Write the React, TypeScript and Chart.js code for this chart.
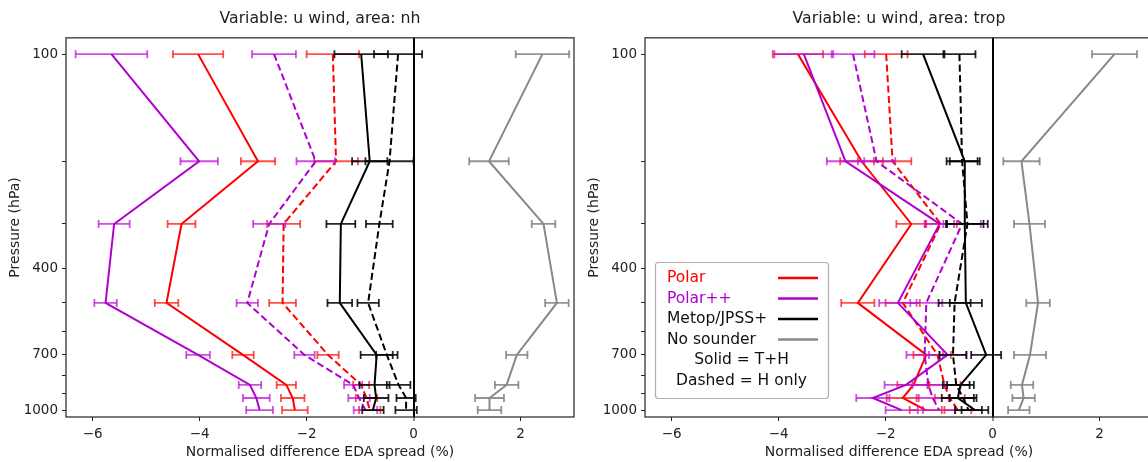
import React, { useEffect, useRef } from 'react';
import { Chart, registerables } from 'chart.js';

Chart.register(...registerables);

// ---------- data ----------
const pressureLevels = [100, 200, 300, 500, 700, 850, 925, 1000];
const yTickValues = [100, 200, 300, 400, 500, 600, 700, 800, 900, 1000];
const yTickLabels = [100, 400, 700, 1000];
const xTickValues = [-6, -4, -2, 0, 2];

const panelTitles = ['Variable: u wind, area: nh', 'Variable: u wind, area: trop'];
const xAxisTitle = 'Normalised difference EDA spread (%)';
const yAxisTitle = 'Pressure (hPa)';

const legendLabels = ['Polar', 'Polar++', 'Metop/JPSS+', 'No sounder'];
const legendNotes = ['Solid = T+H', 'Dashed = H only'];

// nh
const nhPolarTH = [-4.03, -2.91, -4.34, -4.62, -3.19, -2.38, -2.26, -2.22];
const nhPolarTHErr = [0.47, 0.32, 0.26, 0.22, 0.2, 0.18, 0.22, 0.24];
const nhPolarH = [-1.51, -1.45, -2.43, -2.45, -1.6, -0.98, -0.88, -0.82];
const nhPolarHErr = [0.49, 0.41, 0.31, 0.25, 0.2, 0.15, 0.2, 0.2];
const nhPolarPPTH = [-5.65, -4.01, -5.6, -5.76, -4.03, -3.06, -2.94, -2.88];
const nhPolarPPTHErr = [0.67, 0.35, 0.29, 0.21, 0.22, 0.21, 0.25, 0.25];
const nhPolarPPH = [-2.61, -1.83, -2.7, -3.11, -2.04, -1.13, -1.02, -0.9];
const nhPolarPPHErr = [0.41, 0.36, 0.3, 0.2, 0.19, 0.17, 0.2, 0.22];
const nhMetopTH = [-0.98, -0.82, -1.36, -1.38, -0.69, -0.73, -0.7, -0.76];
const nhMetopTHErr = [0.5, 0.33, 0.27, 0.23, 0.3, 0.28, 0.23, 0.2];
const nhMetopH = [-0.29, -0.45, -0.64, -0.85, -0.5, -0.28, -0.14, -0.14];
const nhMetopHErr = [0.45, 0.45, 0.25, 0.2, 0.2, 0.22, 0.18, 0.2];
const nhNoSounder = [2.41, 1.41, 2.43, 2.68, 1.93, 1.74, 1.42, 1.42];
const nhNoSounderErr = [0.5, 0.37, 0.22, 0.22, 0.2, 0.22, 0.27, 0.22];

// trop
const trPolarTH = [-3.64, -2.45, -1.52, -2.52, -1.24, -1.48, -1.68, -1.25];
const trPolarTHErr = [0.47, 0.4, 0.28, 0.31, 0.24, 0.3, 0.3, 0.3];
const trPolarH = [-1.99, -1.87, -0.97, -1.68, -1.03, -0.9, -0.8, -0.65];
const trPolarHErr = [0.4, 0.35, 0.3, 0.32, 0.25, 0.3, 0.28, 0.25];
const trPolarPPTH = [-3.53, -2.75, -0.99, -1.77, -0.84, -1.62, -2.24, -1.7];
const trPolarPPTHErr = [0.55, 0.35, 0.27, 0.35, 0.35, 0.4, 0.31, 0.3];
const trPolarPPH = [-2.61, -2.17, -0.57, -1.24, -1.27, -1.2, -1.12, -1.0];
const trPolarPPHErr = [0.4, 0.35, 0.35, 0.3, 0.34, 0.3, 0.3, 0.3];
const trMetopTH = [-1.3, -0.52, -0.52, -0.5, -0.12, -0.6, -0.65, -0.33];
const trMetopTHErr = [0.4, 0.28, 0.35, 0.3, 0.28, 0.25, 0.3, 0.25];
const trMetopH = [-0.62, -0.57, -0.47, -0.71, -0.74, -0.68, -0.55, -0.45];
const trMetopHErr = [0.3, 0.29, 0.38, 0.3, 0.25, 0.25, 0.25, 0.25];
const trNoSounder = [2.28, 0.54, 0.69, 0.85, 0.7, 0.55, 0.58, 0.49];
const trNoSounderErr = [0.42, 0.34, 0.29, 0.22, 0.3, 0.21, 0.21, 0.2];

// ---------- styles ----------
const RED = '#ff0000';
const PURPLE = '#b000d0';
const BLACK = '#000000';
const GREY = '#888888';
const ERR_COLORS: Record<string, string> = {
  [RED]: 'rgba(255,20,20,0.75)',
  [PURPLE]: 'rgba(190,20,215,0.75)',
  [BLACK]: 'rgba(0,0,0,0.85)',
  [GREY]: 'rgba(128,128,128,0.85)',
};
const FONT = "'DejaVu Sans', sans-serif";
const TEXT = '#222222';

type Series = { vals: number[]; errs: number[]; color: string; dashed: boolean };

function buildDatasets(series: Series[]) {
  const ds: any[] = [];
  let k = 0;
  series.forEach((s) => {
    const ec = ERR_COLORS[s.color];
    const errData: any[] = [];
    pressureLevels.forEach((p, i) => {
      errData.push({ x: s.vals[i] - s.errs[i], y: p });
      errData.push({ x: s.vals[i] + s.errs[i], y: p });
      errData.push({ x: NaN, y: p });
    });
    ds.push({
      data: errData,
      showLine: true,
      spanGaps: false,
      borderColor: ec,
      borderWidth: 1.8,
      pointStyle: 'line',
      pointRotation: 90,
      pointRadius: 4,
      pointBorderWidth: 1.8,
      pointBorderColor: ec,
      pointBackgroundColor: ec,
      order: 1000 - k++,
    });
    ds.push({
      data: pressureLevels.map((p, i) => ({ x: s.vals[i], y: p })),
      showLine: true,
      borderColor: s.color,
      borderWidth: 2,
      borderDash: s.dashed ? [7, 3.5] : [],
      pointRadius: 0,
      order: 1000 - k++,
    });
  });
  return ds;
}

const nhSeries: Series[] = [
  { vals: nhPolarTH, errs: nhPolarTHErr, color: RED, dashed: false },
  { vals: nhPolarH, errs: nhPolarHErr, color: RED, dashed: true },
  { vals: nhPolarPPTH, errs: nhPolarPPTHErr, color: PURPLE, dashed: false },
  { vals: nhPolarPPH, errs: nhPolarPPHErr, color: PURPLE, dashed: true },
  { vals: nhMetopTH, errs: nhMetopTHErr, color: BLACK, dashed: false },
  { vals: nhMetopH, errs: nhMetopHErr, color: BLACK, dashed: true },
  { vals: nhNoSounder, errs: nhNoSounderErr, color: GREY, dashed: false },
];
const trSeries: Series[] = [
  { vals: trPolarTH, errs: trPolarTHErr, color: RED, dashed: false },
  { vals: trPolarH, errs: trPolarHErr, color: RED, dashed: true },
  { vals: trPolarPPTH, errs: trPolarPPTHErr, color: PURPLE, dashed: false },
  { vals: trPolarPPH, errs: trPolarPPHErr, color: PURPLE, dashed: true },
  { vals: trMetopTH, errs: trMetopTHErr, color: BLACK, dashed: false },
  { vals: trMetopH, errs: trMetopHErr, color: BLACK, dashed: true },
  { vals: trNoSounder, errs: trNoSounderErr, color: GREY, dashed: false },
];

const framePlugin = {
  id: 'frame',
  afterDraw(chart: any) {
    const { ctx, chartArea: a } = chart;
    ctx.save();
    ctx.strokeStyle = '#222';
    ctx.lineWidth = 1.2;
    ctx.strokeRect(a.left, a.top, a.right - a.left, a.bottom - a.top);
    ctx.restore();
  },
};

const legendPlugin = {
  id: 'customLegend',
  afterDraw(chart: any, _args: any, opts: any) {
    if (!opts || !opts.show) return;
    const { ctx, chartArea: a } = chart;
    const bw = 173;
    const bh = 136;
    const bx = a.left + 10;
    const by = a.bottom - 19 - bh;
    ctx.save();
    ctx.fillStyle = 'rgba(255,255,255,0.85)';
    ctx.strokeStyle = '#b0b0b0';
    ctx.lineWidth = 1.2;
    ctx.beginPath();
    if (ctx.roundRect) ctx.roundRect(bx + 0.5, by + 0.5, bw, bh, 3);
    else ctx.rect(bx + 0.5, by + 0.5, bw, bh);
    ctx.fill();
    ctx.stroke();
    const colors = [RED, PURPLE, BLACK, GREY];
    const textColors = [RED, PURPLE, '#111', '#111'];
    ctx.font = `15.5px ${FONT}`;
    ctx.textBaseline = 'middle';
    const rowH = 20.5;
    legendLabels.forEach((lab, i) => {
      const cy = by + 16 + i * rowH;
      ctx.fillStyle = textColors[i];
      ctx.textAlign = 'left';
      ctx.fillText(lab, bx + 12, cy);
      ctx.strokeStyle = colors[i];
      ctx.lineWidth = 2.6;
      ctx.beginPath();
      ctx.moveTo(bx + 123, cy);
      ctx.lineTo(bx + 163, cy);
      ctx.stroke();
    });
    legendNotes.forEach((note, j) => {
      const cy = by + 16 + (legendLabels.length + j) * rowH;
      ctx.fillStyle = '#111';
      ctx.textAlign = 'center';
      ctx.fillText(note, bx + bw / 2, cy);
    });
    ctx.restore();
  },
};

function makeConfig(title: string, series: Series[], showLegend: boolean): any {
  return {
    type: 'scatter',
    data: { datasets: buildDatasets(series) },
    plugins: [framePlugin, legendPlugin],
    options: {
      animation: false,
      responsive: false,
      devicePixelRatio: 1,
      events: [],
      layout: { padding: { left: 0, right: 6, top: 0, bottom: 0 } },
      plugins: {
        legend: { display: false },
        tooltip: { enabled: false },
        title: {
          display: true,
          fullSize: false,
          text: title,
          color: TEXT,
          font: { family: FONT, size: 15.7, weight: 'normal' },
          padding: { top: 10, bottom: 9 },
        },
        customLegend: { show: showLegend },
      },
      scales: {
        x: {
          type: 'linear',
          min: -6.5,
          max: 3,
          afterBuildTicks: (scale: any) => {
            scale.ticks = xTickValues.map((v) => ({ value: v }));
          },
          afterFit: (scale: any) => {
            scale.height = 45;
          },
          ticks: {
            color: TEXT,
            font: { family: FONT, size: 13.5 },
            padding: 5,
            maxRotation: 0,
            autoSkip: false,
            callback: (v: any) => (v < 0 ? '\u2212' + Math.abs(v) : String(v)),
          },
          grid: {
            display: true,
            drawOnChartArea: true,
            drawTicks: true,
            tickLength: 4,
            tickColor: '#222',
            tickWidth: 1,
            color: (ctx: any) => (ctx.tick && ctx.tick.value === 0 ? '#000' : 'rgba(0,0,0,0)'),
            lineWidth: (ctx: any) => (ctx.tick && ctx.tick.value === 0 ? 2 : 1),
          },
          border: { display: false },
          title: {
            display: true,
            text: xAxisTitle,
            color: TEXT,
            font: { family: FONT, size: 14 },
            padding: { top: 0, bottom: 1 },
          },
        },
        y: {
          type: 'logarithmic',
          reverse: true,
          min: 90,
          max: 1046,
          afterBuildTicks: (scale: any) => {
            scale.ticks = yTickValues.map((v) => ({ value: v }));
          },
          afterFit: (scale: any) => {
            scale.width = 66;
          },
          ticks: {
            color: TEXT,
            font: { family: FONT, size: 13.5 },
            padding: 4,
            autoSkip: false,
            callback: (v: any) => (yTickLabels.includes(Number(v)) ? String(v) : ''),
          },
          grid: {
            display: true,
            drawOnChartArea: false,
            drawTicks: true,
            tickLength: 4,
            tickColor: '#222',
            tickWidth: 1,
            color: 'rgba(0,0,0,0)',
          },
          border: { display: false },
          title: {
            display: true,
            text: yAxisTitle,
            color: TEXT,
            font: { family: FONT, size: 14 },
            padding: { top: 7, bottom: 0 },
          },
        },
      },
    },
  };
}

function Panel({ title, series, showLegend, left }: { title: string; series: Series[]; showLegend: boolean; left: number }) {
  const ref = useRef<HTMLCanvasElement | null>(null);
  useEffect(() => {
    if (!ref.current) return;
    const chart = new Chart(ref.current, makeConfig(title, series, showLegend));
    return () => chart.destroy();
  }, [title, series, showLegend]);
  return (
    <canvas
      ref={ref}
      width={580}
      height={462}
      style={{ position: 'absolute', left, top: 0, width: 580, height: 462 }}
    />
  );
}

export default function App() {
  useEffect(() => {
    document.body.style.margin = '0';
    document.body.style.overflow = 'hidden';
  }, []);
  return (
    <div style={{ position: 'relative', width: 1148, height: 462, overflow: 'hidden', background: '#fff' }}>
      <Panel title={panelTitles[0]} series={nhSeries} showLegend={false} left={0} />
      <Panel title={panelTitles[1]} series={trSeries} showLegend={true} left={579} />
    </div>
  );
}
